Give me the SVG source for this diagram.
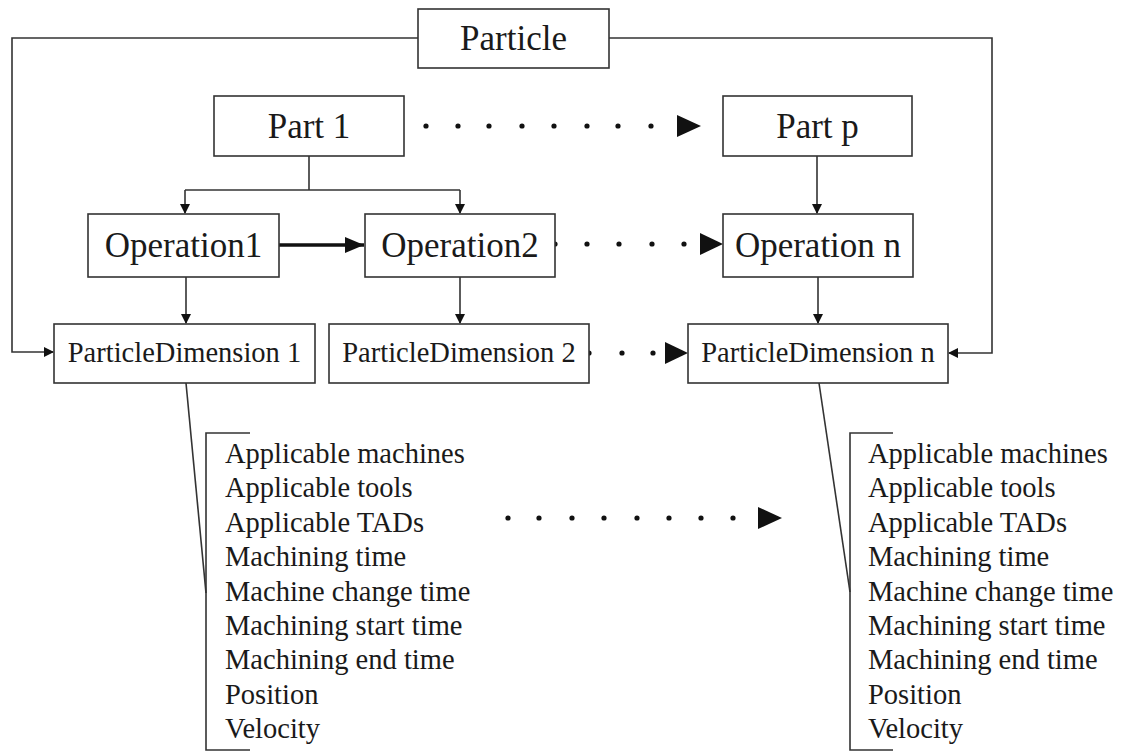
<svg xmlns="http://www.w3.org/2000/svg" width="1125" height="754" viewBox="0 0 1125 754">
<defs>
<style>
.box{fill:#fff;stroke:#333;stroke-width:1.6}
.ln{fill:none;stroke:#333;stroke-width:1.6}
.big{font-family:"Liberation Serif","Times New Roman",serif;font-size:35px;fill:#1a1a1a;text-anchor:middle}
.mid{font-family:"Liberation Serif","Times New Roman",serif;font-size:28.5px;fill:#1a1a1a;text-anchor:middle}
.lst{font-family:"Liberation Serif","Times New Roman",serif;font-size:28.5px;fill:#1a1a1a}
.dot{fill:#111}
.head{fill:#111}
</style>
<marker id="ah" markerWidth="10" markerHeight="10" refX="9" refY="5" orient="auto" markerUnits="userSpaceOnUse">
<path d="M0,0 L10,5 L0,10 Z" fill="#111"/>
</marker>
<marker id="ahb" markerWidth="20" markerHeight="20" refX="19" refY="10" orient="auto" markerUnits="userSpaceOnUse">
<path d="M0,2 L19,10 L0,18 Z" fill="#111"/>
</marker>
</defs>

<g id="connectors">
<path class="ln" d="M418,38 H12 V352 H53" marker-end="url(#ah)"/>
<path class="ln" d="M609,38 H992 V353 H949" marker-end="url(#ah)"/>
<path class="ln" d="M309,156 V190"/>
<path class="ln" d="M185,190 H460"/>
<path class="ln" d="M185,190 V213" marker-end="url(#ah)"/>
<path class="ln" d="M460,190 V213" marker-end="url(#ah)"/>
<path class="ln" d="M817,156 V213" marker-end="url(#ah)"/>
<path class="ln" d="M186,277 V323" marker-end="url(#ah)"/>
<path class="ln" d="M460,277 V323" marker-end="url(#ah)"/>
<path class="ln" d="M818,277 V323" marker-end="url(#ah)"/>
<path d="M279,245 H364" fill="none" stroke="#111" stroke-width="3.5" marker-end="url(#ahb)"/>
<path class="ln" d="M186,383 L206,593"/>
<path class="ln" d="M819,383 L850,592"/>
<path class="ln" d="M250,433 H206 V750 H250"/>
<path class="ln" d="M893,433 H850 V750 H893"/>
<g id="dots-part">
<circle class="dot" cx="426" cy="126" r="2.6"/>
<circle class="dot" cx="458" cy="126" r="2.6"/>
<circle class="dot" cx="489" cy="126" r="2.6"/>
<circle class="dot" cx="522" cy="126" r="2.6"/>
<circle class="dot" cx="554" cy="126" r="2.6"/>
<circle class="dot" cx="587" cy="126" r="2.6"/>
<circle class="dot" cx="618" cy="126" r="2.6"/>
<circle class="dot" cx="651" cy="126" r="2.6"/>
<path class="head" d="M677,115 L701,126 L677,137 Z"/>
</g>
<g id="dots-op">
<circle class="dot" cx="555" cy="244" r="2.6"/>
<circle class="dot" cx="587" cy="244" r="2.6"/>
<circle class="dot" cx="619" cy="244" r="2.6"/>
<circle class="dot" cx="652" cy="244" r="2.6"/>
<circle class="dot" cx="684" cy="244" r="2.6"/>
<path class="head" d="M700,233 L723,244 L700,255 Z"/>
</g>
<g id="dots-pd">
<circle class="dot" cx="589" cy="353" r="2.6"/>
<circle class="dot" cx="622" cy="353" r="2.6"/>
<circle class="dot" cx="653" cy="353" r="2.6"/>
<path class="head" d="M665,342 L688,353 L665,364 Z"/>
</g>
<g id="dots-list">
<circle class="dot" cx="508" cy="518" r="2.6"/>
<circle class="dot" cx="539" cy="518" r="2.6"/>
<circle class="dot" cx="572" cy="518" r="2.6"/>
<circle class="dot" cx="604" cy="518" r="2.6"/>
<circle class="dot" cx="637" cy="518" r="2.6"/>
<circle class="dot" cx="669" cy="518" r="2.6"/>
<circle class="dot" cx="701" cy="518" r="2.6"/>
<circle class="dot" cx="733" cy="518" r="2.6"/>
<path class="head" d="M758,507 L782,518 L758,529 Z"/>
</g>
</g>

<g id="particle"><rect class="box" x="418" y="9" width="191" height="59"/><text class="big" x="513.5" y="50">Particle</text></g>
<g id="part1"><rect class="box" x="214" y="96" width="190" height="60"/><text class="big" x="309" y="138">Part 1</text></g>
<g id="partp"><rect class="box" x="723" y="96" width="189" height="60"/><text class="big" x="817.5" y="138">Part p</text></g>
<g id="op1"><rect class="box" x="88" y="214" width="191" height="63"/><text class="big" x="183.5" y="257">Operation1</text></g>
<g id="op2"><rect class="box" x="365" y="214" width="190" height="63"/><text class="big" x="460" y="257">Operation2</text></g>
<g id="opn"><rect class="box" x="723" y="214" width="190" height="63"/><text class="big" x="818" y="257">Operation n</text></g>
<g id="pd1"><rect class="box" x="54" y="324" width="261" height="59"/><text class="mid" x="184.5" y="362">ParticleDimension 1</text></g>
<g id="pd2"><rect class="box" x="329" y="324" width="260" height="59"/><text class="mid" x="459" y="362">ParticleDimension 2</text></g>
<g id="pdn"><rect class="box" x="688" y="324" width="260" height="59"/><text class="mid" x="818" y="362">ParticleDimension n</text></g>

<g id="list1">
<text class="lst" x="225" y="463">Applicable machines</text>
<text class="lst" x="225" y="497.4">Applicable tools</text>
<text class="lst" x="225" y="531.8">Applicable TADs</text>
<text class="lst" x="225" y="566.2">Machining time</text>
<text class="lst" x="225" y="600.6">Machine change time</text>
<text class="lst" x="225" y="635">Machining start time</text>
<text class="lst" x="225" y="669.4">Machining end time</text>
<text class="lst" x="225" y="703.8">Position</text>
<text class="lst" x="225" y="738.2">Velocity</text>
</g>
<g id="listn">
<text class="lst" x="868" y="463">Applicable machines</text>
<text class="lst" x="868" y="497.4">Applicable tools</text>
<text class="lst" x="868" y="531.8">Applicable TADs</text>
<text class="lst" x="868" y="566.2">Machining time</text>
<text class="lst" x="868" y="600.6">Machine change time</text>
<text class="lst" x="868" y="635">Machining start time</text>
<text class="lst" x="868" y="669.4">Machining end time</text>
<text class="lst" x="868" y="703.8">Position</text>
<text class="lst" x="868" y="738.2">Velocity</text>
</g>
</svg>
